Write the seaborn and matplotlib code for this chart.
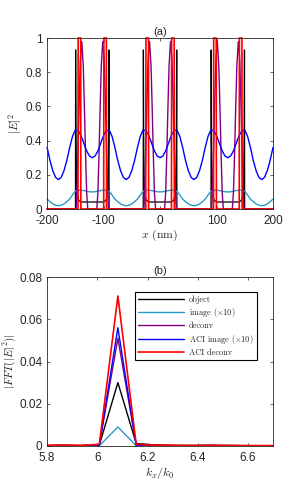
import matplotlib
matplotlib.use("Agg")
import matplotlib.pyplot as plt
import seaborn as sns

sns.set_style("ticks")
plt.rcParams['font.family'] = ['Liberation Sans', 'DejaVu Sans']
plt.rcParams['mathtext.fontset'] = 'cm'
plt.rcParams['axes.unicode_minus'] = False

GREY = '#262626'
colors = {'object': 'black', 'image': '#2a9ac8', 'deconv': '#800080',
          'aci_image': '#0000ff', 'aci_deconv': '#ff0000'}

# ---- (a) field intensity vs x (nm) ----
x_grid = list(range(-200, 205, 5))

image_a = [0.058, 0.043, 0.030, 0.022, 0.019,
           0.022, 0.030, 0.043, 0.058, 0.082, 0.104, 0.110, 0.110, 0.108, 0.104, 0.101, 0.100,
           0.101, 0.104, 0.108, 0.110, 0.110, 0.104, 0.082, 0.058, 0.043, 0.030, 0.022, 0.019,
           0.022, 0.030, 0.043, 0.058, 0.082, 0.104, 0.110, 0.110, 0.108, 0.104, 0.101, 0.100,
           0.101, 0.104, 0.108, 0.110, 0.110, 0.104, 0.082, 0.058, 0.043, 0.030, 0.022, 0.019,
           0.022, 0.030, 0.043, 0.058, 0.082, 0.104, 0.110, 0.110, 0.108, 0.104, 0.101, 0.100,
           0.101, 0.104, 0.108, 0.110, 0.110, 0.104, 0.082, 0.058, 0.043, 0.030, 0.022, 0.019,
           0.022, 0.030, 0.043, 0.058]

aci_image_a = [0.360, 0.285, 0.225, 0.185, 0.172,
               0.185, 0.225, 0.285, 0.360, 0.425, 0.462, 0.458, 0.430, 0.385, 0.340, 0.310, 0.300,
               0.310, 0.340, 0.385, 0.430, 0.458, 0.462, 0.425, 0.360, 0.285, 0.225, 0.185, 0.172,
               0.185, 0.225, 0.285, 0.360, 0.425, 0.462, 0.458, 0.430, 0.385, 0.340, 0.310, 0.300,
               0.310, 0.340, 0.385, 0.430, 0.458, 0.462, 0.425, 0.360, 0.285, 0.225, 0.185, 0.172,
               0.185, 0.225, 0.285, 0.360, 0.425, 0.462, 0.458, 0.430, 0.385, 0.340, 0.310, 0.300,
               0.310, 0.340, 0.385, 0.430, 0.458, 0.462, 0.425, 0.360, 0.285, 0.225, 0.185, 0.172,
               0.185, 0.225, 0.285, 0.360]

object_x = [-200,
            -149.8, -149.5, -149, -148.3, -147.5, -146, -144, -140,
            -100, -96, -94, -92.5, -91.7, -91, -90.5, -90.2,
            -29.8, -29.5, -29, -28.3, -27.5, -26, -24, -20,
            20, 24, 26, 27.5, 28.3, 29, 29.5, 29.8,
            90.2, 90.5, 91, 91.7, 92.5, 94, 96, 100,
            140, 144, 146, 147.5, 148.3, 149, 149.5, 149.8,
            200]
object_y = [0,
            0, 0.93, 0.45, 0.20, 0.11, 0.07, 0.05, 0.041,
            0.041, 0.05, 0.07, 0.11, 0.20, 0.45, 0.93, 0,
            0, 0.93, 0.45, 0.20, 0.11, 0.07, 0.05, 0.041,
            0.041, 0.05, 0.07, 0.11, 0.20, 0.45, 0.93, 0,
            0, 0.93, 0.45, 0.20, 0.11, 0.07, 0.05, 0.041,
            0.041, 0.05, 0.07, 0.11, 0.20, 0.45, 0.93, 0,
            0]

deconv_x = [-200,
            -148.5, -147, -145, -143, -141, -138.6, -136, -134, -132, -130, -128,
            -112, -110, -108, -106, -104, -101.4, -99, -97, -95, -93, -91.5,
            -28.5, -27, -25, -23, -21, -18.6, -16, -14, -12, -10, -8,
            8, 10, 12, 14, 16, 18.6, 21, 23, 25, 27, 28.5,
            91.5, 93, 95, 97, 99, 101.4, 104, 106, 108, 110, 112,
            128, 130, 132, 134, 136, 138.6, 141, 143, 145, 147, 148.5,
            200]
deconv_y = [0,
            0, 0.12, 0.38, 0.65, 0.88, 0.98, 0.84, 0.60, 0.33, 0.10, 0,
            0, 0.10, 0.33, 0.60, 0.84, 0.98, 0.88, 0.65, 0.38, 0.12, 0,
            0, 0.12, 0.38, 0.65, 0.88, 0.98, 0.84, 0.60, 0.33, 0.10, 0,
            0, 0.10, 0.33, 0.60, 0.84, 0.98, 0.88, 0.65, 0.38, 0.12, 0,
            0, 0.12, 0.38, 0.65, 0.88, 0.98, 0.84, 0.60, 0.33, 0.10, 0,
            0, 0.10, 0.33, 0.60, 0.84, 0.98, 0.88, 0.65, 0.38, 0.12, 0,
            0]

aci_deconv_x = [-200,
                -145.3, -145, -140.5, -140.2, -99.8, -99.5, -95, -94.7,
                -25.3, -25, -20.5, -20.2, 20.2, 20.5, 25, 25.3,
                94.7, 95, 99.5, 99.8, 140.2, 140.5, 145, 145.3,
                200]
aci_deconv_y = [0,
                0, 1, 1, 0, 0, 1, 1, 0,
                0, 1, 1, 0, 0, 1, 1, 0,
                0, 1, 1, 0, 0, 1, 1, 0,
                0]

# ---- (b) spectrum vs kx/k0 ----
k_ratio = [5.787, 5.861, 5.934, 6.008, 6.082, 6.155, 6.229, 6.302, 6.376,
           6.449, 6.523, 6.596, 6.670, 6.743]
object_b = [0.0002, 0.0003, 0.0002, 0.0004, 0.030, 0.0012, 0.0005, 0.0003, 0.0002,
            0.0003, 0.0002, 0.0001, 0.0001, 0.0001]
image_b = [0.0001, 0.0001, 0.0001, 0.0001, 0.009, 0.0001, 0.0001, 0.0001, 0.0001,
           0.0001, 0.0001, 0.0001, 0.0001, 0.0001]
deconv_b = [0.0002, 0.0003, 0.0002, 0.0005, 0.051, 0.0006, 0.0003, 0.0002, 0.0002,
            0.0003, 0.0002, 0.0002, 0.0001, 0.0001]
aci_image_b = [0.0001, 0.0002, 0.0001, 0.0003, 0.056, 0.0003, 0.0002, 0.0001, 0.0001,
               0.0002, 0.0001, 0.0001, 0.0001, 0.0001]
aci_deconv_b = [0.0003, 0.0004, 0.0003, 0.0008, 0.071, 0.0008, 0.0004, 0.0003, 0.0003,
                0.0003, 0.0003, 0.0002, 0.0002, 0.0002]
legend_labels = ['object', r'image ($\times10$)', 'deconv',
                 r'ACI image ($\times10$)', 'ACI deconv']


def style_axes(ax):
    ax.tick_params(direction='in', length=2.5, width=0.5, top=True, right=True,
                   labelsize=8.5, colors=GREY)
    ax.tick_params(axis='x', pad=4.5)
    ax.tick_params(axis='y', pad=3.5)
    for s in ax.spines.values():
        s.set_visible(True)
        s.set_linewidth(0.6)
        s.set_color(GREY)


fig = plt.figure(figsize=(3, 5), dpi=100)
ax1 = fig.add_axes([0.157, 0.582, 0.753, 0.342])
ax2 = fig.add_axes([0.157, 0.108, 0.753, 0.338])

kw = dict(estimator=None, sort=False, clip_on=False)
sns.lineplot(x=object_x, y=object_y, ax=ax1, color=colors['object'], lw=0.9, **kw)
sns.lineplot(x=x_grid, y=image_a, ax=ax1, color=colors['image'], lw=1.0, **kw)
sns.lineplot(x=deconv_x, y=deconv_y, ax=ax1, color=colors['deconv'], lw=1.0, **kw)
sns.lineplot(x=x_grid, y=aci_image_a, ax=ax1, color=colors['aci_image'], lw=1.0, **kw)
sns.lineplot(x=aci_deconv_x, y=aci_deconv_y, ax=ax1, color=colors['aci_deconv'], lw=1.2, **kw)
ax1.set_xlim(-200, 200)
ax1.set_ylim(0, 1)
ax1.set_xticks([-200, -100, 0, 100, 200])
ax1.set_yticks([0, 0.2, 0.4, 0.6, 0.8, 1])
ax1.set_yticklabels(['0', '0.2', '0.4', '0.6', '0.8', '1'])
ax1.set_xlabel(r'$x$ (nm)', family='cmr10', fontsize=8.5, color=GREY, labelpad=0.5)
ax1.set_ylabel(r'$|E|^2$', fontsize=8.5, color=GREY, labelpad=1.5)
ax1.set_title('(a)', fontsize=8, pad=2)
style_axes(ax1)

series_b = [object_b, image_b, deconv_b, aci_image_b, aci_deconv_b]
keys = ['object', 'image', 'deconv', 'aci_image', 'aci_deconv']
for vals, key in zip(series_b, keys):
    sns.lineplot(x=k_ratio, y=vals, ax=ax2, color=colors[key],
                 lw=1.2 if key == 'aci_deconv' else 1.0, estimator=None, sort=False)
ax2.set_xlim(5.8, 6.7)
ax2.set_ylim(0, 0.08)
ax2.set_xticks([5.8, 6, 6.2, 6.4, 6.6])
ax2.set_xticklabels(['5.8', '6', '6.2', '6.4', '6.6'])
ax2.set_yticks([0, 0.02, 0.04, 0.06, 0.08])
ax2.set_yticklabels(['0', '0.02', '0.04', '0.06', '0.08'])
ax2.set_xlabel(r'$k_x/k_0$', fontsize=8.5, color=GREY, labelpad=0.5)
ax2.set_ylabel(r'$|FFT(|E|^2)|$', fontsize=8, color=GREY, labelpad=0.5)
ax2.set_title('(b)', fontsize=8, pad=2)
style_axes(ax2)

leg = ax2.legend(ax2.get_lines(), legend_labels, loc='upper right',
                 bbox_to_anchor=(0.947, 0.935), prop={'family': 'cmr10', 'size': 6},
                 handlelength=5.5, fancybox=False, framealpha=1, edgecolor='black',
                 borderpad=0.4, labelspacing=0.3, handletextpad=0.6)
leg.get_frame().set_linewidth(0.8)

fig.savefig('out.png', dpi=100)
